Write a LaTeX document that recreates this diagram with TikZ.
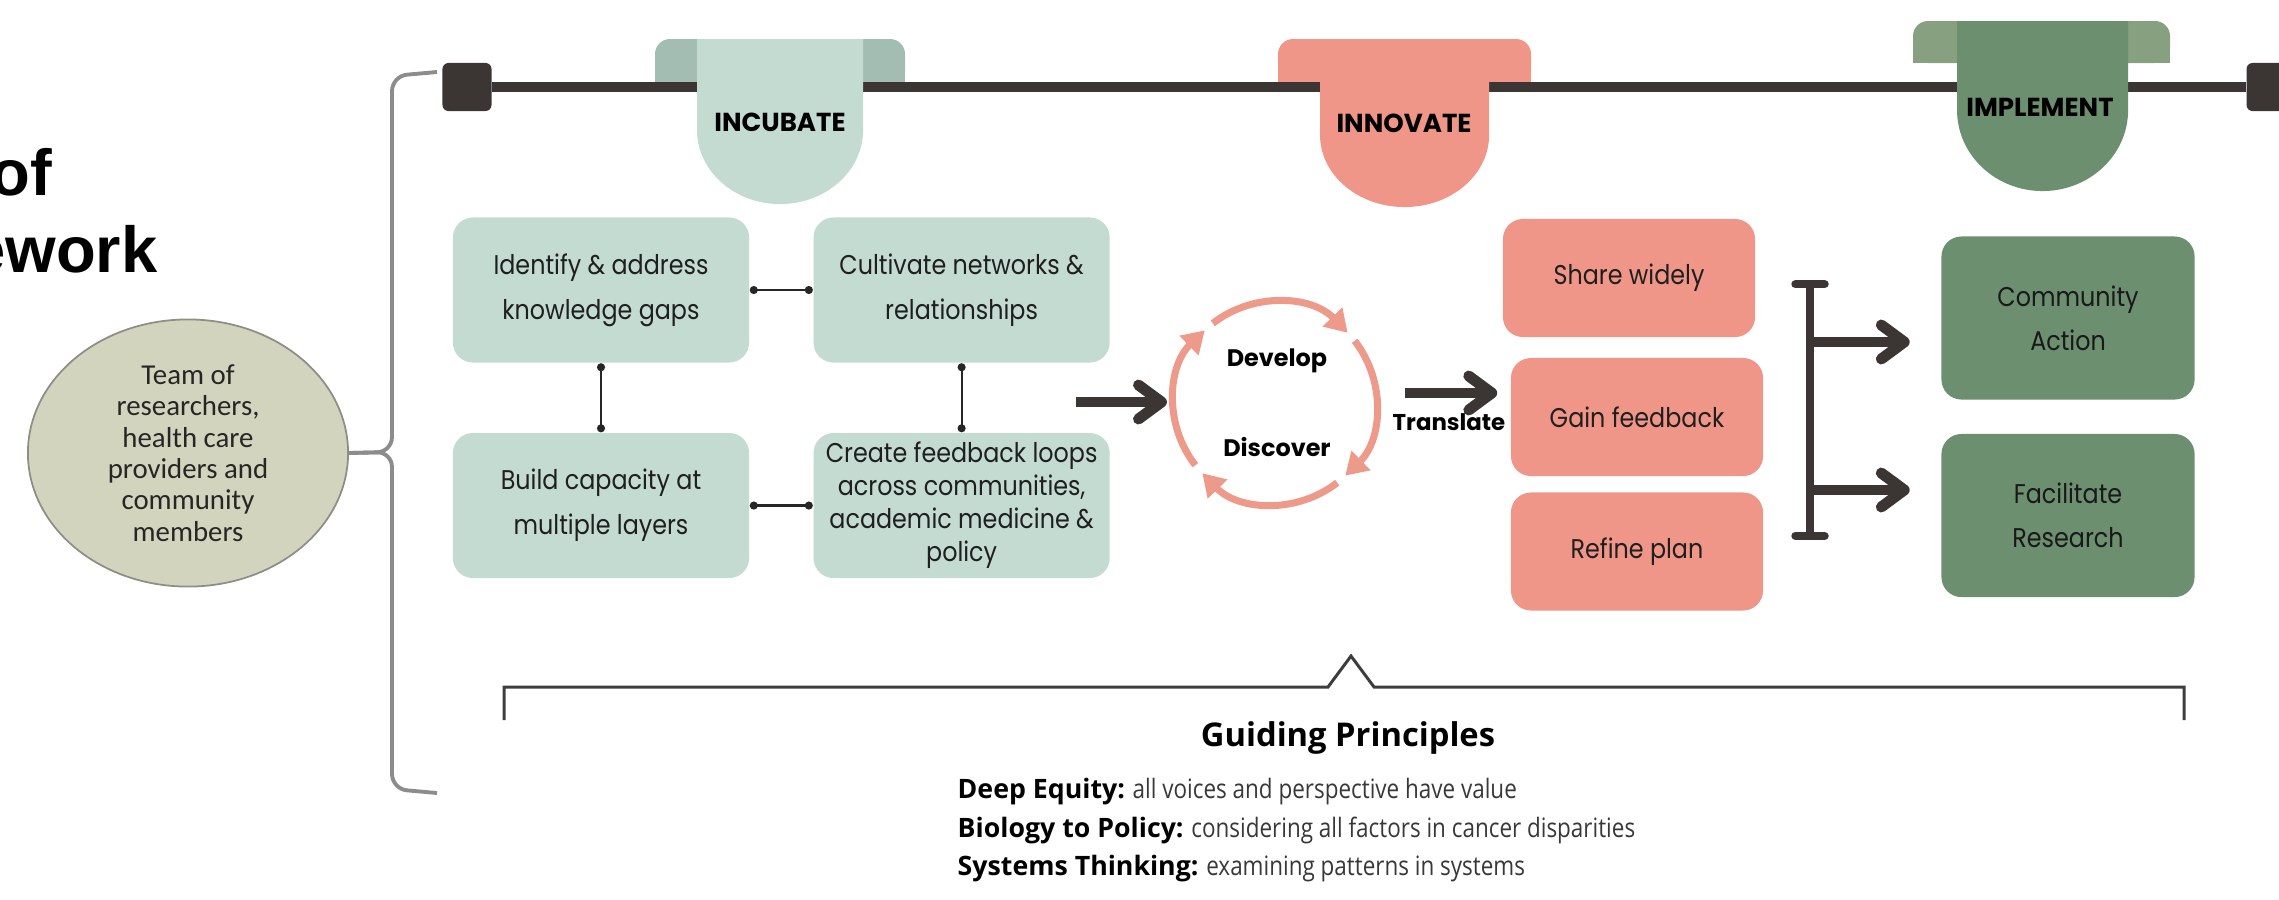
\documentclass[tikz,border=0pt]{standalone}
\usepackage{fontspec}
\usepackage{xcolor}
\usepackage{tikz}
\usetikzlibrary{arrows.meta,positioning,shapes.geometric,calc}

\newfontfamily\headfont{Liberation Sans}
\newfontfamily\teamfont{Carlito}
\newfontfamily\tabfont{Poppins}
\newfontfamily\boxfont[FakeStretch=0.88]{Poppins}
\newfontfamily\guidefont{Open Sans}
\newfontfamily\guidenarrow[FakeStretch=0.84]{Open Sans}

\definecolor{sage}{HTML}{C3DBD0}
\definecolor{sagedark}{HTML}{A4BDB2}
\definecolor{salmon}{HTML}{F09688}
\definecolor{ringred}{HTML}{EE9A8B}
\definecolor{moss}{HTML}{6C8F70}
\definecolor{mosslight}{HTML}{86A080}
\definecolor{barbrown}{HTML}{3B3634}
\definecolor{olive}{HTML}{D2D4BD}
\definecolor{olivegrey}{HTML}{8E8E86}
\definecolor{bracegrey}{HTML}{8C8C8C}
\definecolor{inkgrey}{HTML}{3D3D3D}

\begin{document}
\begin{tikzpicture}[
  x=0.01cm, y=-0.01cm,
  headline/.style={inner sep=0pt, font={\headfont\bfseries\fontsize{18.5}{22}\selectfont}},
  team/.style={ellipse, fill=olive, draw=olivegrey, line width=0.5pt, minimum width=3.2cm, minimum height=2.67cm, inner sep=0pt, align=center, text=black!85, font={\teamfont\fontsize{8.2}{8.9}\selectfont}},
  brace/.style={draw=bracegrey, line width=1.1pt, rounded corners=1.5mm},
  endcap/.style={fill=barbrown, rounded corners=0.6mm, minimum width=0.49cm, minimum height=0.48cm, inner sep=0pt},
  bar/.style={draw=barbrown, line width=3.1pt},
  tablabel/.style={inner sep=0pt, font={\tabfont\bfseries\fontsize{7.4}{8}\selectfont}},
  ibox/.style={fill=sage, rounded corners=2mm, align=center, minimum width=2.96cm, minimum height=1.45cm, inner sep=0pt, text=black!88, font={\boxfont\fontsize{7.7}{12.8}\selectfont}},
  nbox/.style={fill=salmon, rounded corners=2mm, align=center, minimum width=2.52cm, minimum height=1.18cm, inner sep=0pt, text=black!88, font={\boxfont\fontsize{7.7}{12.5}\selectfont}},
  mbox/.style={fill=moss, rounded corners=2mm, align=center, minimum width=2.53cm, minimum height=1.63cm, inner sep=0pt, text=black!90, font={\boxfont\fontsize{7.7}{12.5}\selectfont}},
  link/.style={{Circle[length=0.8mm]}-{Circle[length=0.8mm]}, line width=0.6pt, draw=black!85},
  ring/.style={draw=ringred, line width=2pt, -{Triangle[length=2.2mm, width=2.6mm]}},
  cyclabel/.style={inner sep=0pt, font={\tabfont\bfseries\fontsize{6.8}{8}\selectfont}},
  arrow/.style={-{Straight Barb[length=2.3mm, width=3.4mm, round]}, line width=3.1pt, draw=barbrown},
  split/.style={{Bar[width=2.9mm, round]}-{Bar[width=2.9mm, round]}, line width=2.4pt, draw=barbrown},
  pbrace/.style={draw=inkgrey, line width=0.85pt},
  guidehead/.style={inner sep=0pt, font={\guidefont\bfseries\fontsize{9.3}{11}\selectfont}},
  guideline/.style={inner sep=0pt, text=black!78, font={\guidefont\fontsize{7.6}{9}\selectfont}}
]
\useasboundingbox (0,0) rectangle (2279,899);

% title, cut at the left edge
\node[headline, anchor=base east] (titleof) at (53,195) {of};
\node[headline, anchor=base east] (titlework) at (158,272) {ework};

% team and its brace
\node[team] (team) at (188,453) {Team of\\researchers,\\health care\\providers and\\community\\members};
\draw[brace] (437,72) -- (392,76) -- (392,452) -- (team.east);
\draw[brace] (team.east) -- (392,452) -- (392,789) -- (437,793);

% back flaps of the tabs
\fill[sagedark, rounded corners=1.5mm] (655,39) rectangle (905,88);
\fill[sagedark] (655,60) rectangle (905,88);
\fill[salmon, rounded corners=1.5mm] (1278,39) rectangle (1531,88);
\fill[salmon] (1278,60) rectangle (1531,88);
\fill[mosslight, rounded corners=1.5mm] (1913,21) rectangle (2170,63);
\fill[mosslight] (1913,40) rectangle (2170,63);

% timeline
\node[endcap] (leftcap) at (467,87) {};
\node[endcap] (rightcap) at (2271,87) {};
\draw[bar] (leftcap) -- (rightcap);

% tab fronts
\fill[sage] (697,39) -- (697,130) arc[start angle=180, end angle=360, x radius=0.83cm, y radius=0.74cm] -- (863,39) -- cycle;
\fill[salmon] (1320,39) -- (1320,135) arc[start angle=180, end angle=360, x radius=0.845cm, y radius=0.72cm] -- (1489,39) -- cycle;
\fill[moss] (1957,21) -- (1957,110) arc[start angle=180, end angle=360, x radius=0.855cm, y radius=0.81cm] -- (2128,21) -- cycle;
\node[tablabel] (incubate) at (780,122) {INCUBATE};
\node[tablabel] (innovate) at (1404,123) {INNOVATE};
\node[tablabel] (implement) at (2040,107) {IMPLEMENT};

% incubate grid
\node[ibox] (gaps) at (601,290) {Identify \& address\\knowledge gaps};
\node[ibox, right=0.63cm of gaps] (networks) {Cultivate networks \&\\relationships};
\node[ibox, below=0.69cm of gaps] (capacity) {Build capacity at\\multiple layers};
\node[ibox, right=0.63cm of capacity, font={\boxfont\fontsize{7.7}{9.4}\selectfont}] (loops) {Create feedback loops\\across communities,\\academic medicine \&\\policy};

\draw[link] (gaps) -- (networks);
\draw[link] (gaps) -- (capacity);
\draw[link] (networks) -- (loops);
\draw[link] (capacity) -- (loops);

% develop / discover cycle
\node[circle, minimum size=2.02cm, inner sep=0pt, outer sep=0pt] (cycle) at (1275,403) {};
\foreach \s/\e in {218/134, 128/44, 38/-46, 308/224}
  \draw[ring] (cycle.\s) arc[start angle=\s, end angle=\e, radius=1.01cm];
\node[cyclabel] (develop) at (1277,361) {Develop};
\node[cyclabel] (discover) at (1277,447) {Discover};

% innovate boxes
\node[nbox] (share) at (1629,278) {Share widely};
\node[nbox] (gain) at (1637,417) {Gain feedback};
\node[nbox, below=0.15cm of gain] (refine) {Refine plan};

% implement boxes
\node[mbox] (action) at (2068,318) {Community\\Action};
\node[mbox, below=0.33cm of action] (research) {Facilitate\\Research};

% arrows
\coordinate (gridout) at (1076,402);
\draw[arrow, shorten >=0.07cm] (gridout) -- (gridout -| cycle.west);
\coordinate (cycleout) at (1405,393);
\draw[arrow, shorten >=0.13cm] (cycleout) -- (cycleout -| gain.west);
\node[cyclabel, font={\tabfont\bfseries\fontsize{6.5}{8}\selectfont}] (translate) at (1449,422) {Translate};

\coordinate (splittop) at (1810,280);
\coordinate (splitbot) at (1810,540);
\draw[split] (splittop) -- (splitbot);
\coordinate (toaction) at (1810,342);
\coordinate (toresearch) at (1810,490);
\draw[arrow, shorten >=0.31cm] (toaction) -- (toaction -| action.west);
\draw[arrow, shorten >=0.31cm] (toresearch) -- (toresearch -| research.west);

% guiding principles
\draw[pbrace] (504,720) -- (504,687) -- (1328,687) -- (1351,656) -- (1374,687) -- (2184,687) -- (2184,720);
\node[guidehead, anchor=base] (guiding) at (1348,746) {Guiding Principles};
\node[guideline, anchor=base west] (equity) at (957,798) {\textbf{\color{black}Deep Equity:}\guidenarrow{} all voices and perspective have value};
\node[guideline, anchor=base west] (biology) at (957,837) {\textbf{\color{black}Biology to Policy:}\guidenarrow{} considering all factors in cancer disparities};
\node[guideline, anchor=base west] (systems) at (957,875) {\textbf{\color{black}Systems Thinking:}\guidenarrow{} examining patterns in systems};
\end{tikzpicture}
\end{document}
